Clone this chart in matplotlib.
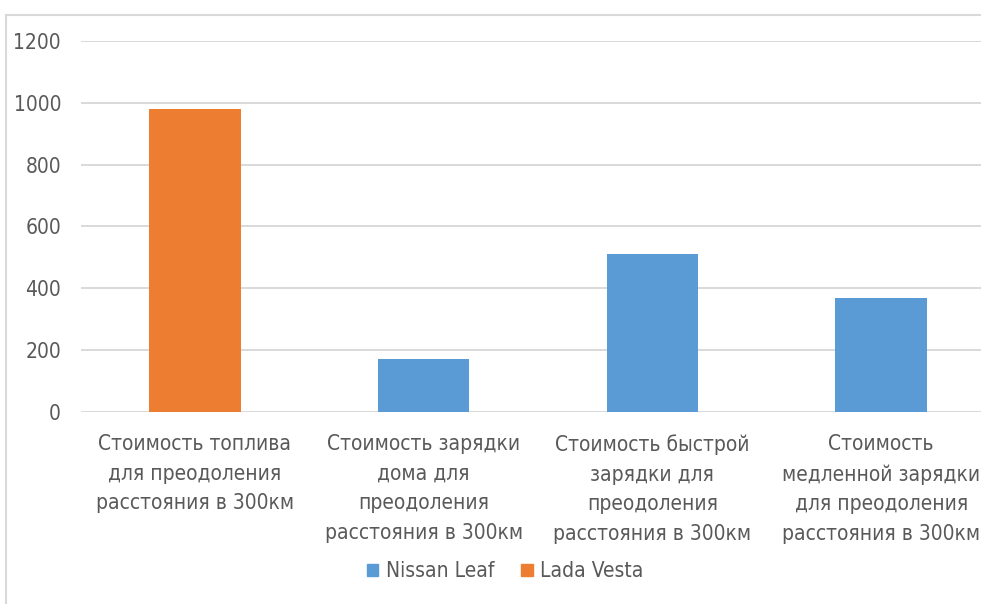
import matplotlib.pyplot as plt
import matplotlib.patches as mpatches
from matplotlib.lines import Line2D

# Data
categories = [
    "Стоимость топлива\nдля преодоления\nрасстояния в 300км",
    "Стоимость зарядки\nдома для\nпреодоления\nрасстояния в 300км",
    "Стоимость быстрой\nзарядки для\nпреодоления\nрасстояния в 300км",
    "Стоимость\nмедленной зарядки\nдля преодоления\nрасстояния в 300км",
]
values = [980, 170, 510, 370]
series_of_bar = ["Lada Vesta", "Nissan Leaf", "Nissan Leaf", "Nissan Leaf"]
series_names = ["Nissan Leaf", "Lada Vesta"]
yticks = [0, 200, 400, 600, 800, 1000, 1200]

colors = {"Nissan Leaf": "#5B9BD5", "Lada Vesta": "#ED7D31"}
text_color = "#595959"
grid_color = "#D9D9D9"

plt.rcParams['font.family'] = ['DejaVu Sans']
plt.rcParams['font.stretch'] = 'condensed'

W, H = 981, 604
fig = plt.figure(figsize=(W / 100, H / 100), dpi=100)

# axes placed in pixel terms (right side runs past the figure edge, as in the reference)
left, right = 80.5, 995.5
y0, y1200 = 412, 41
ax = fig.add_axes([left / W, (H - y0) / H, (right - left) / W, (y0 - y1200) / H])

x = range(len(categories))
ax.bar(x, values, width=0.4, color=[colors[s] for s in series_of_bar], zorder=3)

ax.set_xlim(-0.5, len(categories) - 0.5)
ax.set_ylim(0, 1200)
ax.set_yticks(yticks)
ax.set_yticklabels([str(v) for v in yticks], fontsize=15, color=text_color)
ax.set_xticks(list(x))
ax.set_xticklabels(categories, fontsize=15, color=text_color, linespacing=1.6, va='top')
ax.tick_params(axis='both', length=0)
ax.tick_params(axis='y', pad=14)
ax.tick_params(axis='x', pad=16)
for sp in ax.spines.values():
    sp.set_visible(False)
ax.yaxis.grid(True, color=grid_color, linewidth=1.4, zorder=0)
ax.set_axisbelow(True)

# legend
handles = [mpatches.Patch(color=colors[n], label=n) for n in series_names]
fig.legend(handles=handles, loc='center', bbox_to_anchor=(505 / W, (H - 571) / H),
           ncol=2, frameon=False, fontsize=15, labelcolor=text_color,
           handlelength=0.55, handleheight=0.5, handletextpad=0.35, columnspacing=1.3)

# chart area border
fig.add_artist(Line2D([6 / W, 1.0], [(H - 15) / H, (H - 15) / H], color=grid_color, lw=1.5))
fig.add_artist(Line2D([6 / W, 6 / W], [0, (H - 15) / H], color=grid_color, lw=1.5))

fig.savefig("out.png", dpi=100, facecolor="white")
